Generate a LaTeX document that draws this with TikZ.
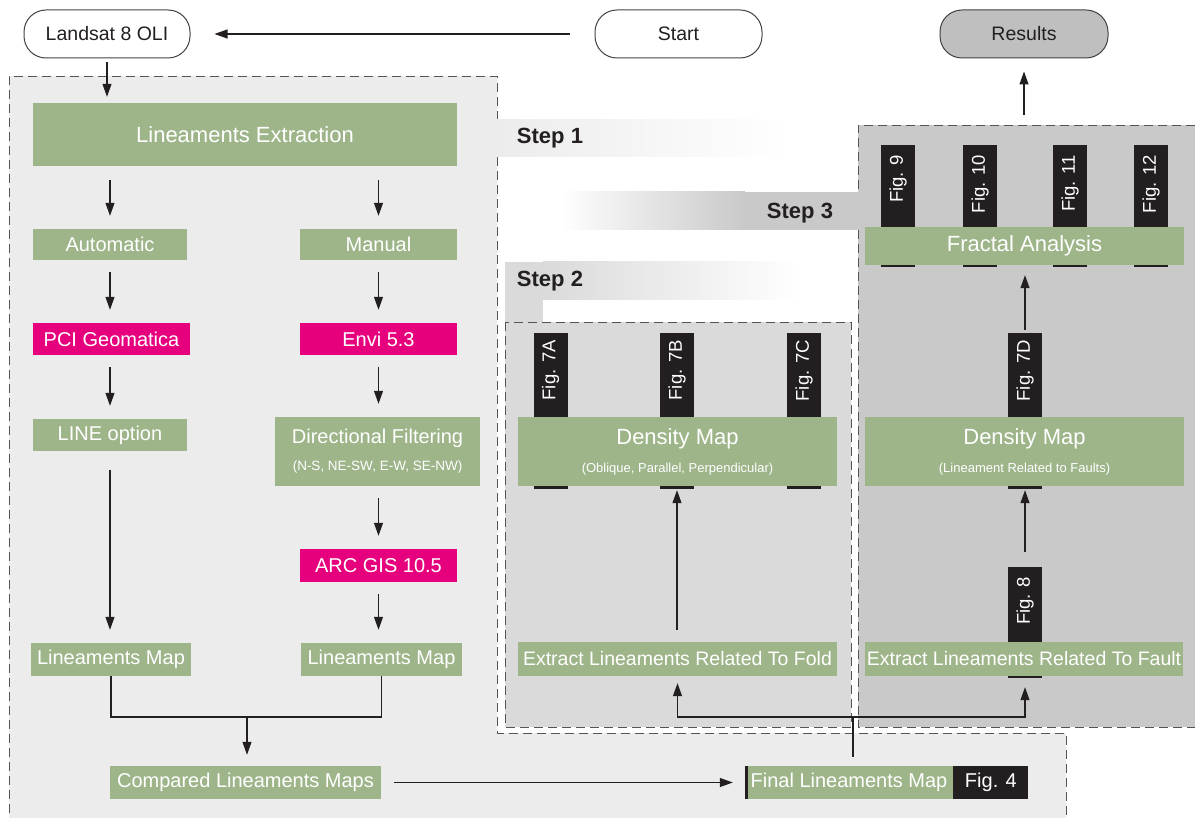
\documentclass[tikz,border=0pt]{standalone}
\usepackage{fontspec}
\setmainfont{Liberation Sans}
\usepackage{tikz}
\usetikzlibrary{arrows.meta}
\usetikzlibrary{positioning}

\definecolor{boxgreen}{RGB}{158,181,138}
\definecolor{toolpink}{RGB}{230,0,126}
\definecolor{figblack}{RGB}{35,31,32}
\definecolor{linegray}{RGB}{85,85,85}
\definecolor{regA}{RGB}{235,236,235}
\definecolor{regB}{RGB}{217,218,217}
\definecolor{regC}{RGB}{200,201,200}
\definecolor{resgray}{RGB}{190,191,190}

\begin{document}
\begin{tikzpicture}[x=1pt, y=-1pt,
    pill/.style={draw=figblack!85, line width=1pt, rounded corners=22pt, minimum height=48pt, inner sep=0pt, text=figblack, font=\fontsize{19.5}{23}\selectfont},
    box/.style={fill=boxgreen, text=white, inner sep=0pt, font=\fontsize{20}{24}\selectfont},
    tool/.style={fill=toolpink, text=white, inner sep=0pt, minimum width=157pt, minimum height=32pt, font=\fontsize{20}{24}\selectfont},
    bar/.style={fill=figblack, minimum width=34pt, inner sep=0pt},
    figlbl/.style={text=white, rotate=90, anchor=east, inner sep=0pt, font=\fontsize{18.5}{22}\selectfont},
    figbox/.style={fill=figblack, text=white, inner sep=0pt, font=\fontsize{20}{24}\selectfont},
    steptxt/.style={text=figblack, font=\bfseries\fontsize{22}{26}\selectfont},
    zone/.style={draw=linegray, line width=0.9pt, dash pattern=on 9pt off 5pt},
    link/.style={draw=figblack, line width=1.1pt},
    arr/.style={draw=figblack, line width=1.1pt, -{Triangle[length=13pt, width=9pt]}}]

    \useasboundingbox (0,0) rectangle (1195,818);

    % step 1 region
    \fill[regA] (9,76) -- (497,76) -- (497,733) -- (1066,733) -- (1066,818) -- (9,818) -- cycle;
    \draw[zone] (497,120) -- (497,76) -- (9,76) -- (9,818);
    \draw[zone] (497,157) -- (497,733) -- (1066,733) -- (1066,818);
    \shade[left color=regA, right color=white] (497,120) rectangle (790,157);

    % step 2 region
    \fill[regB] (505,262) rectangle (543,322);
    \shade[left color=regB, right color=white] (543,262) rectangle (800,300);
    \fill[regB] (505,322) rectangle (851,727);
    \draw[zone] (505,322) rectangle (851,727);

    % step 3 region
    \shade[left color=white, right color=regC] (560,192) rectangle (745,230);
    \fill[regC] (745,192) rectangle (858,230);
    \fill[regC] (858,125) rectangle (1195,727);
    \draw[zone] (1195,125) -- (858,125) -- (858,192);
    \draw[zone] (858,230) -- (858,727) -- (1195,727);

    \node[steptxt] (s1) at (550,138) {Step 1};
    \node[steptxt] (s2) at (550,281) {Step 2};
    \node[steptxt] (s3) at (800,213) {Step 3};

    % top
    \node[pill, minimum width=166pt] (landsat) at (107,34) {Landsat 8 OLI};
    \node[pill, minimum width=167pt] (start) at (678.5,34) {Start};
    \node[pill, minimum width=168pt, fill=resgray] (results) at (1024,34) {Results};

    % left column
    \node[box, minimum width=424pt, minimum height=63pt, font=\fontsize{22}{26}\selectfont] (extract) at (245,134.5) {Lineaments Extraction};
    \node[box, minimum width=154pt, minimum height=31pt] (auto) at (110,244.5) {Automatic};
    \node[box, minimum width=157pt, minimum height=31pt] (manual) at (378.5,244.5) {Manual};
    \node[tool] (pci) at (111.5,339) {PCI Geomatica};
    \node[tool] (envi) at (378.5,339) {Envi 5.3};
    \node[box, minimum width=154pt, minimum height=32pt] (lineopt) at (110,435) {LINE option};
    \node[box, minimum width=205pt, minimum height=69pt, align=center] (dirfilt) at (377.5,451.5)
        {Directional Filtering\\[3pt]{\fontsize{13.5}{16}\selectfont (N-S, NE-SW, E-W, SE-NW)}};
    \node[tool, minimum height=33pt] (arcgis) at (378.5,565.5) {ARC GIS 10.5};
    \node[box, minimum width=160pt, minimum height=33pt] (mapL) at (111,659.5) {Lineaments Map};
    \node[box, minimum width=161pt, minimum height=33pt] (mapR) at (381.5,659.5) {Lineaments Map};
    \node[box, minimum width=271pt, minimum height=33pt] (compared) at (245.5,782.5) {Compared Lineaments Maps};
    \node[box, minimum width=208pt, minimum height=33pt] (final) at (849,782.5) {Final Lineaments Map};
    \node[figbox, anchor=west, minimum width=75pt, minimum height=33pt] (fig4) at (final.east) {Fig. 4};
    \draw[figblack, line width=3pt] ([xshift=1.5pt]final.south west) -- ([xshift=1.5pt]final.north west);

    % step 2 boxes
    \node[bar, minimum height=156pt] (b7A) at (550.5,411) {};
    \node[bar, minimum height=156pt] (b7B) at (677,411) {};
    \node[bar, minimum height=156pt] (b7C) at (804,411) {};
    \node[figlbl] (t7A) at ([yshift=-7pt]b7A.north) {Fig. 7A};
    \node[figlbl] (t7B) at ([yshift=-7pt]b7B.north) {Fig. 7B};
    \node[figlbl] (t7C) at ([yshift=-7pt]b7C.north) {Fig. 7C};
    \node[box, minimum width=319pt, minimum height=69pt, align=center, font=\fontsize{22}{26}\selectfont] (dens2) at (677.5,451.5)
        {Density Map\\[2pt]{\fontsize{13}{16}\selectfont (Oblique, Parallel, Perpendicular)}};
    \node[box, minimum width=319pt, minimum height=34pt, font=\fontsize{19.5}{23}\selectfont] (fold) at (677.5,659) {Extract Lineaments Related To Fold};

    % step 3 boxes
    \node[bar, minimum height=122pt] (b9) at (898,206) {};
    \node[bar, minimum height=122pt] (b10) at (980,206) {};
    \node[bar, minimum height=122pt] (b11) at (1070,206) {};
    \node[bar, minimum height=122pt] (b12) at (1151,206) {};
    \node[figlbl] (t9) at ([yshift=-10pt]b9.north) {Fig. 9};
    \node[figlbl] (t10) at ([yshift=-10pt]b10.north) {Fig. 10};
    \node[figlbl] (t11) at ([yshift=-10pt]b11.north) {Fig. 11};
    \node[figlbl] (t12) at ([yshift=-10pt]b12.north) {Fig. 12};
    \node[box, minimum width=319pt, minimum height=38pt, font=\fontsize{22}{26}\selectfont] (fractal) at (1024.5,246) {Fractal Analysis};
    \node[bar, minimum height=156pt] (b7D) at (1025,411) {};
    \node[figlbl] (t7D) at ([yshift=-7pt]b7D.north) {Fig. 7D};
    \node[box, minimum width=319pt, minimum height=69pt, align=center, font=\fontsize{22}{26}\selectfont] (dens3) at (1024.5,451.5)
        {Density Map\\[2pt]{\fontsize{13}{16}\selectfont (Lineament Related to Faults)}};
    \node[bar, minimum height=111pt] (b8) at (1025,622.5) {};
    \node[figlbl] (t8) at ([yshift=-10pt]b8.north) {Fig. 8};
    \node[box, minimum width=318pt, minimum height=34pt, font=\fontsize{19.5}{23}\selectfont] (fault) at (1024,659) {Extract Lineaments Related To Fault};

    % connectors
    \draw[arr, shorten <=25pt, shorten >=24pt] (start) -- (landsat);
    \draw[arr, shorten <=4pt, shorten >=6pt] (landsat.south) -- (landsat.south |- extract.north);
    \draw[arr, shorten <=14pt, shorten >=13pt] (extract.south -| auto) -- (auto.north);
    \draw[arr, shorten <=14pt, shorten >=13pt] (extract.south -| manual) -- (manual.north);
    \draw[arr, shorten <=12pt, shorten >=13pt] (auto.south) -- (auto.south |- pci.north);
    \draw[arr, shorten <=12pt, shorten >=13pt] (manual.south) -- (manual.south |- envi.north);
    \draw[arr, shorten <=12pt, shorten >=13pt] (pci.south -| lineopt) -- (lineopt.north);
    \draw[arr, shorten <=12pt, shorten >=13pt] (envi.south) -- (envi.south |- dirfilt.north);
    \draw[arr, shorten <=19pt, shorten >=13pt] (lineopt.south) -- (lineopt.south |- mapL.north);
    \draw[arr, shorten <=12pt, shorten >=13pt] (dirfilt.south -| arcgis) -- (arcgis.north);
    \draw[arr, shorten <=12pt, shorten >=13pt] (arcgis.south) -- (arcgis.south |- mapR.north);

    \coordinate (merge) at (247,717);
    \draw[link] (mapL.south) |- (merge) -| (mapR.south);
    \draw[arr, shorten >=11pt] (merge) -- (merge |- compared.north);
    \draw[arr, shorten <=13pt, shorten >=12pt] (compared) -- (final);

    \coordinate (split) at (853,717);
    \draw[link, shorten <=9pt] (split |- final.north) -- (split);
    \draw[arr, shorten >=7pt] (split) -| (fold.south);
    \draw[arr, shorten >=9pt] (split) -| (b8.south);
    \draw[arr, shorten <=12pt, shorten >=1pt] (fold.north -| b7B) -- (b7B.south);
    \draw[arr, shorten <=15pt, shorten >=1pt] (b8.north) -- (b7D.south);
    \draw[arr, shorten <=3pt, shorten >=10pt] (b7D.north) -- (b7D.north |- fractal.south);

    \coordinate (s3top) at (1024,125);
    \draw[arr, shorten <=10pt, shorten >=13pt] (s3top) -- (results.south);
\end{tikzpicture}
\end{document}
